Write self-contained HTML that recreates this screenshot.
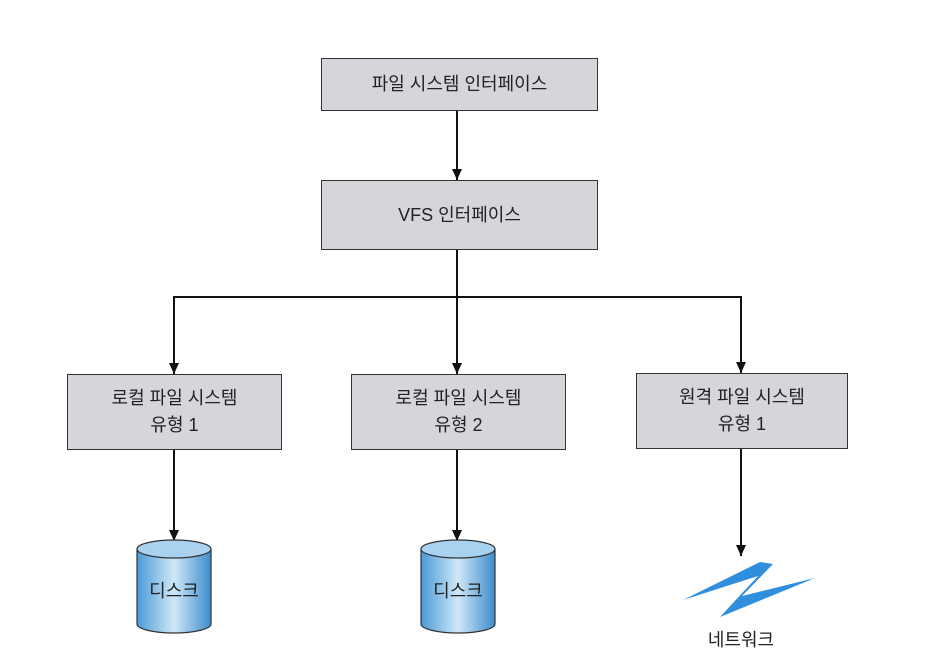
<!DOCTYPE html>
<html><head><meta charset="utf-8"><style>
body{margin:0;width:952px;height:665px;background:#fff;overflow:hidden;font-family:"Liberation Sans","Noto Sans CJK KR",sans-serif}
.b{position:absolute;background:#d6d5da;border:1.5px solid #333;box-sizing:border-box;display:flex;align-items:center;justify-content:center;text-align:center;font-size:18px;color:#222;line-height:27px}
.t{position:absolute;font-size:18px;color:#222;text-align:center}
</style></head><body>
<svg width="952" height="665" style="position:absolute;left:0;top:0">
<defs>
<marker id="a" markerWidth="12" markerHeight="12" refX="11" refY="5" orient="auto" markerUnits="userSpaceOnUse"><path d="M0,0 L11,5 L0,10z" fill="#111"/></marker>
<linearGradient id="g" x1="0" x2="1"><stop offset="0" stop-color="#4a9ad6"/><stop offset=".5" stop-color="#cfe8f8"/><stop offset="1" stop-color="#3d8ccc"/></linearGradient>
</defs>
<g stroke="#111" stroke-width="2" fill="none">
<line x1="457" y1="110" x2="457" y2="180" marker-end="url(#a)"/>
<line x1="457" y1="249" x2="457" y2="374" marker-end="url(#a)"/>
<polyline points="174,297 741,297"/>
<line x1="174" y1="296" x2="174" y2="374" marker-end="url(#a)"/>
<line x1="741" y1="296" x2="741" y2="373" marker-end="url(#a)"/>
<line x1="174" y1="449" x2="174" y2="541" marker-end="url(#a)"/>
<line x1="457" y1="449" x2="457" y2="541" marker-end="url(#a)"/>
<line x1="741" y1="448" x2="741" y2="556" marker-end="url(#a)"/>
</g>
<g stroke="#333" stroke-width="1.2">
<path d="M137,549 L137,624 A37,9 0 0 0 211,624 L211,549" fill="url(#g)"/>
<ellipse cx="174" cy="549" rx="37" ry="9" fill="#a8d2ef"/>
<path d="M421,549 L421,624 A37,9 0 0 0 495,624 L495,549" fill="url(#g)"/>
<ellipse cx="458" cy="549" rx="37" ry="9" fill="#a8d2ef"/>
</g>
<path d="M683,600 L758,576 L720,617 L815,578 L742,596 L773,564 L760,562 Z" fill="#2f8fdc"/>
</svg>
<div class="b" style="left:321px;top:58px;width:277px;height:53px">파일 시스템 인터페이스</div>
<div class="b" style="left:321px;top:180px;width:277px;height:70px">VFS 인터페이스</div>
<div class="b" style="left:67px;top:374px;width:215px;height:76px">로컬 파일 시스템<br>유형 1</div>
<div class="b" style="left:351px;top:374px;width:215px;height:76px">로컬 파일 시스템<br>유형 2</div>
<div class="b" style="left:636px;top:373px;width:212px;height:76px">원격 파일 시스템<br>유형 1</div>
<div class="t" style="left:137px;top:577px;width:74px">디스크</div>
<div class="t" style="left:421px;top:577px;width:74px">디스크</div>
<div class="t" style="left:691px;top:626px;width:100px">네트워크</div>
</body></html>
